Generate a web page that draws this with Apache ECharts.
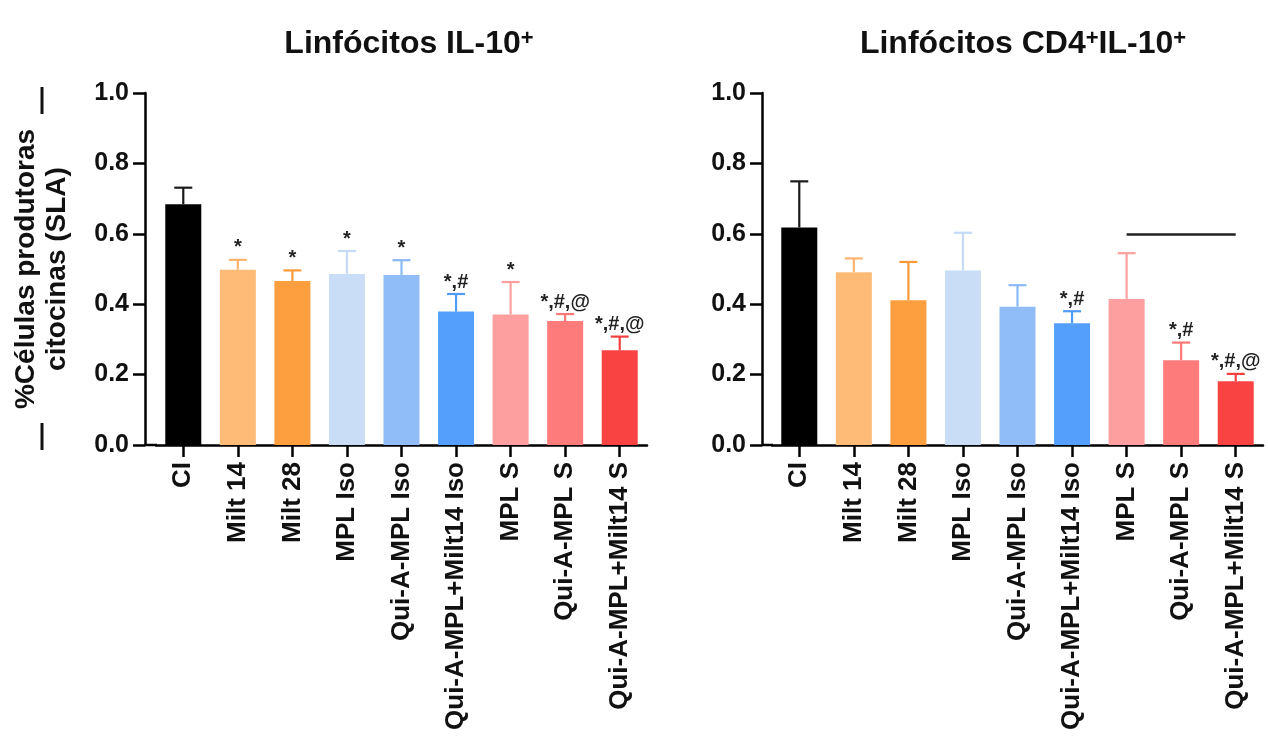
<!DOCTYPE html>
<html>
<head>
<meta charset="utf-8">
<script src="https://cdn.jsdelivr.net/npm/echarts@6/dist/echarts.min.js"></script>
<style>
html,body{margin:0;padding:0;background:#fff;}
#chart{width:1268px;height:736px;}
</style>
</head>
<body>
<div id="chart"></div>
<script>
const categories = ['CI','Milt 14','Milt 28','MPL Iso','Qui-A-MPL Iso','Qui-A-MPL+Milt14 Iso','MPL S','Qui-A-MPL S','Qui-A-MPL+Milt14 S'];
const leftMeans  = [0.684,0.498,0.466,0.486,0.483,0.379,0.371,0.352,0.269];
const leftErrors = [0.047,0.028,0.030,0.065,0.042,0.050,0.092,0.020,0.039];
const leftMarks  = ['','*','*','*','*','*,#','*','*,#,@','*,#,@'];
const rightMeans  = [0.618,0.491,0.411,0.496,0.393,0.346,0.415,0.241,0.181];
const rightErrors = [0.131,0.039,0.109,0.107,0.061,0.034,0.130,0.050,0.021];
const rightMarks  = ['','','','','','*,#','','*,#','*,#,@'];
const rightBracket = {from:'MPL S', to:'Qui-A-MPL+Milt14 S', value:0.6};
const yMin = 0, yMax = 1, yStep = 0.2;
const titles = ['Linfócitos IL-10{sup|+}', 'Linfócitos CD4{sup|+}IL-10{sup|+}'];
const yName = '%Células produtoras\ncitocinas (SLA)';

const barColors = ['#000000','#FEBB78','#FD9E3F','#C9DDF7','#90BDF8','#539FFB','#FE9F9F','#FE7B7B','#F94343'];
const errColors = ['#1a1a1a','#FDB36E','#FC9A3A','#C4DAF7','#8AB9F6','#4E9BF8','#FDA0A0','#FD7575','#F63F3F'];

const FONT = '"Liberation Sans", Arial, Helvetica, sans-serif';
const grids = [
  {left:156, top:93, width:491, height:352},
  {left:772, top:93, width:491, height:352}
];
const yOffsets = [11, 10];

function xAxisFor(i){
  return {
    type:'category', gridIndex:i, data:categories,
    axisLine:{show:true, lineStyle:{color:'#000', width:2.5}},
    axisTick:{show:true, alignWithLabel:true, length:12, lineStyle:{color:'#000', width:2.5}},
    axisLabel:{rotate:90, interval:0, margin:17, fontSize:26, fontWeight:'bold', color:'#111', fontFamily:FONT},
    splitLine:{show:false}
  };
}
function yAxisFor(i){
  const ax = {
    type:'value', gridIndex:i, min:yMin, max:yMax, interval:yStep, offset:yOffsets[i],
    axisLine:{show:true, lineStyle:{color:'#000', width:2.5}},
    axisTick:{show:true, length:12, lineStyle:{color:'#000', width:2.5}},
    axisLabel:{fontSize:25, fontWeight:'bold', color:'#111', margin:16, fontFamily:FONT,
      formatter:v=>v.toFixed(1)},
    splitLine:{show:false}
  };
  if(i===0){
    ax.name = yName;
    ax.nameLocation = 'middle';
    ax.nameRotate = 90;
    ax.nameGap = 72;
    ax.nameTextStyle = {fontSize:28, fontWeight:'bold', color:'#111', fontFamily:FONT, lineHeight:31};
  }
  return ax;
}
function barSeries(i, means){
  const s = {
    type:'bar', xAxisIndex:i, yAxisIndex:i, barWidth:36,
    data: means.map((v,k)=>({value:v, itemStyle:{color:barColors[k]}})),
    silent:true
  };
  if(i===1){
    s.markLine = {
      symbol:'none', silent:true, label:{show:false},
      lineStyle:{color:'#222', width:2.5, type:'solid'},
      data:[[{coord:[rightBracket.from, rightBracket.value]},{coord:[rightBracket.to, rightBracket.value]}]]
    };
  }
  return s;
}
function errSeries(i, means, errs, marks){
  return {
    type:'custom', xAxisIndex:i, yAxisIndex:i, silent:true, z:5,
    data: means.map((v,k)=>[k, v, errs[k]]),
    renderItem:function(params, api){
      const k = params.dataIndex;
      const idx = api.value(0), v = api.value(1), e = api.value(2);
      const base = api.coord([idx, v]);
      const top = api.coord([idx, v+e]);
      const col = errColors[k];
      const children = [
        {type:'line', shape:{x1:base[0], y1:base[1], x2:top[0], y2:top[1]}, style:{stroke:col, lineWidth:2.2}},
        {type:'line', shape:{x1:top[0]-9, y1:top[1], x2:top[0]+9, y2:top[1]}, style:{stroke:col, lineWidth:2.2}}
      ];
      if(marks[k]){
        children.push({type:'text', style:{text:marks[k], x:top[0], y:top[1]-2, align:'center', verticalAlign:'bottom',
          fontSize:20, fontWeight:'bold', fill:'#222', fontFamily:FONT}});
      }
      return {type:'group', children:children};
    }
  };
}

const titleRich = {sup:{fontSize:22, fontWeight:'bold', color:'#111', fontFamily:FONT, verticalAlign:'top', lineHeight:20}};
const option = {
  animation:false,
  backgroundColor:'#fff',
  title:[
    {text:titles[0], left:404, top:23, textAlign:'center',
      textStyle:{fontSize:32, fontWeight:'bold', color:'#111', fontFamily:FONT, rich:titleRich}},
    {text:titles[1], left:1018, top:23, textAlign:'center',
      textStyle:{fontSize:32, fontWeight:'bold', color:'#111', fontFamily:FONT, rich:titleRich}}
  ],
  grid:grids,
  xAxis:[xAxisFor(0), xAxisFor(1)],
  yAxis:[yAxisFor(0), yAxisFor(1)],
  series:[
    barSeries(0, leftMeans), errSeries(0, leftMeans, leftErrors, leftMarks),
    barSeries(1, rightMeans), errSeries(1, rightMeans, rightErrors, rightMarks)
  ],
  graphic:[
    {type:'line', shape:{x1:145, y1:445, x2:157, y2:445}, style:{stroke:'#000', lineWidth:2.5}},
    {type:'line', shape:{x1:762, y1:445, x2:773, y2:445}, style:{stroke:'#000', lineWidth:2.5}},
    {type:'line', shape:{x1:42, y1:87, x2:42, y2:114}, style:{stroke:'#111', lineWidth:3}},
    {type:'line', shape:{x1:42, y1:423, x2:42, y2:450}, style:{stroke:'#111', lineWidth:3}}
  ]
};
const chart = echarts.init(document.getElementById('chart'), null, {renderer:'canvas'});
chart.setOption(option);
</script>
</body>
</html>
